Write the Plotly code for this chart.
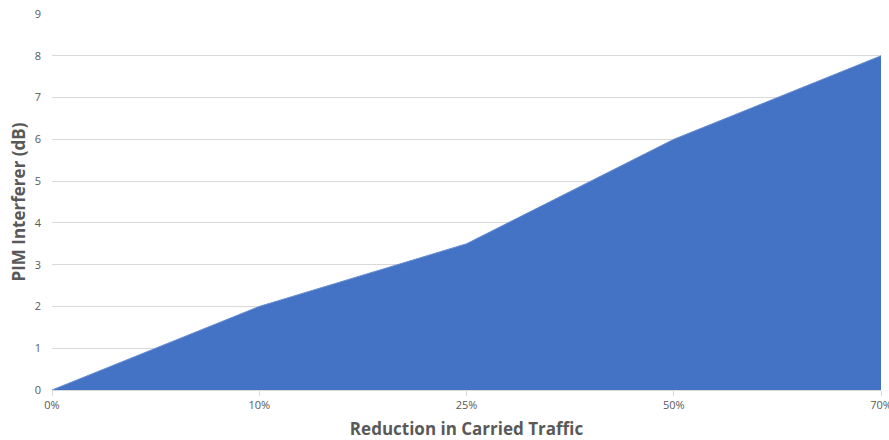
import plotly.graph_objects as go

categories = ["0%", "10%", "25%", "50%", "70%"]
values = [0, 2, 3.5, 6, 8]
y_ticks = [0, 1, 2, 3, 4, 5, 6, 7, 8, 9]

fig = go.Figure()
fig.add_trace(go.Scatter(
    x=categories, y=values, mode="lines", fill="tozeroy",
    fillcolor="#4472C4", line=dict(color="#6a8fd0", width=1),
    hoverinfo="skip", showlegend=False,
))

fig.update_layout(
    width=889, height=440,
    margin=dict(l=52, r=8, t=14, b=50),
    paper_bgcolor="white", plot_bgcolor="white",
    font=dict(family="Open Sans, Liberation Sans, sans-serif", color="#595959", size=11),
    xaxis=dict(
        type="category", range=[0, 4], automargin=False,
        showgrid=False, zeroline=False,
        showline=True, linecolor="#d9d9d9", linewidth=1,
        ticks="outside", ticklen=5, tickcolor="#d9d9d9",
        tickfont=dict(size=11, color="#595959"),
        title=dict(text="<b>Reduction in Carried Traffic</b>",
                   font=dict(size=17, color="#595959"), standoff=12),
    ),
    yaxis=dict(
        range=[0, 9], tickvals=y_ticks, automargin=False,
        showgrid=True, gridcolor="#d9d9d9", gridwidth=1,
        zeroline=False, showline=False, ticks="",
        ticklabelstandoff=10,
        tickfont=dict(size=11, color="#595959"),
        title=dict(text="<b>PIM Interferer (dB)</b>",
                   font=dict(size=17, color="#595959"), standoff=4),
    ),
)

fig.write_html("out.html")
